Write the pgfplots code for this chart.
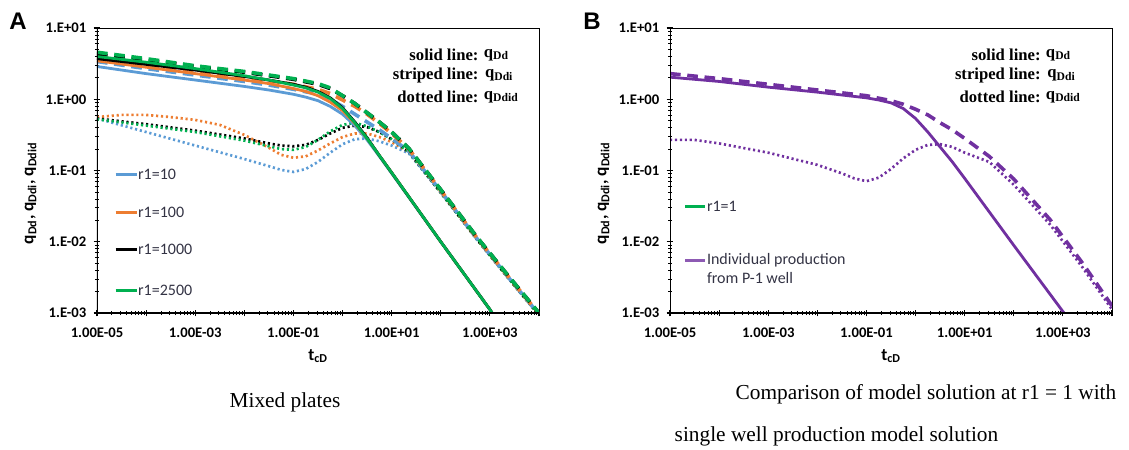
\documentclass[border=0pt]{standalone}
\usepackage{fontspec}
\setmainfont{Liberation Serif}
\newfontfamily\carlito{Carlito}
\newfontfamily\arialfont{Liberation Sans}
\usepackage{pgfplots}
\pgfplotsset{compat=1.18}

\definecolor{xblue}{HTML}{5B9BD5}
\definecolor{xorange}{HTML}{ED7D31}
\definecolor{xgreen}{HTML}{00B050}
\definecolor{xpurple}{HTML}{7030A0}
\definecolor{legtext}{HTML}{333344}

\newcommand\tickfont{\carlito\bfseries\fontsize{11}{12}\selectfont}
\newcommand\labfont{\carlito\bfseries\fontsize{13}{14}\selectfont}
\newcommand\legfont{\carlito\fontsize{12}{13}\selectfont}
\newcommand\notefont{\bfseries\fontsize{12.5}{13}\selectfont}
\newcommand\capfont{\fontsize{16}{18}\selectfont}

\tikzset{
  solidl/.style={line width=2.1pt},
  dashl/.style={line width=2.7pt, dash pattern=on 8pt off 5pt},
  dotl/.style={line width=2pt, dash pattern=on 1.6pt off 2.1pt},
}

\begin{document}
\begin{tikzpicture}[x=0.75pt,y=0.75pt]
\path[use as bounding box] (0,0) rectangle (1129,-450);

\node[font=\arialfont\bfseries\fontsize{18}{18}\selectfont] at (18,-21) {A};
\node[font=\arialfont\bfseries\fontsize{18}{18}\selectfont] at (592,-21) {B};

% ---------------- panel A ----------------
\begin{axis}[at={(72.75pt,-234.75pt)}, anchor=south west,
    xmode=log, ymode=log, scale only axis,
    width=331.5pt, height=213.75pt,
    xmin=1e-5, xmax=1e4, ymin=1e-3, ymax=10,
    xtick={1e-5,1e-4,1e-3,1e-2,1e-1,1,1e1,1e2,1e3,1e4},
    xticklabels={1.00E-05,,1.00E-03,,1.00E-01,,1.00E+01,,1.00E+03,},
    ytick={1e-3,1e-2,1e-1,1,10},
    yticklabels={1.E-03,1.E-02,1.E-01,1.E+00,1.E+01},
    minor xtick={2e-5,3e-5,4e-5,5e-5,6e-5,7e-5,8e-5,9e-5,
      2e-4,3e-4,4e-4,5e-4,6e-4,7e-4,8e-4,9e-4,
      2e-3,3e-3,4e-3,5e-3,6e-3,7e-3,8e-3,9e-3,
      2e-2,3e-2,4e-2,5e-2,6e-2,7e-2,8e-2,9e-2,
      0.2,0.3,0.4,0.5,0.6,0.7,0.8,0.9,
      2,3,4,5,6,7,8,9,
      20,30,40,50,60,70,80,90,
      200,300,400,500,600,700,800,900,
      2000,3000,4000,5000,6000,7000,8000,9000},
    minor ytick={2e-3,3e-3,4e-3,5e-3,6e-3,7e-3,8e-3,9e-3,
      2e-2,3e-2,4e-2,5e-2,6e-2,7e-2,8e-2,9e-2,
      0.2,0.3,0.4,0.5,0.6,0.7,0.8,0.9,
      2,3,4,5,6,7,8,9},
    tick pos=left, tick align=center,
    major tick length=5pt, minor tick length=3pt,
    major tick style={black, line width=0.8pt},
    minor tick style={black, line width=0.5pt},
    axis line style={line width=0.7pt},
    ticklabel style={font=\tickfont},
    xticklabel style={yshift=-5pt},
    yticklabel style={xshift=-2pt},
    xlabel={t\textsubscript{cD}},
    ylabel={q\textsubscript{Dd}, q\textsubscript{Ddi}, q\textsubscript{Ddid}},
    label style={font=\labfont},
    xlabel style={yshift=-2pt},
    ylabel style={at={(ticklabel cs:0.42)}}]
% dotted: q_Ddid
\addplot[dotl, xblue] coordinates {(1e-5,0.537)(1e-4,0.347)(1e-3,0.224)(0.01,0.145)(0.0316,0.115)(0.0562,0.102)(0.1,0.0955)(0.178,0.105)(0.316,0.132)(0.562,0.178)(1,0.234)(1.78,0.275)(3.16,0.282)(5.62,0.257)(10,0.224)(22.4,0.174)(100,0.049)(537,0.01096)(2512,0.00295)(10000,0.000933)};
\addplot[dotl, xorange] coordinates {(1e-5,0.562)(3.16e-5,0.603)(1e-4,0.603)(3.16e-4,0.562)(1e-3,0.513)(3.16e-3,0.437)(0.01,0.316)(0.0316,0.209)(0.0562,0.166)(0.1,0.151)(0.178,0.158)(0.316,0.191)(0.562,0.240)(1,0.295)(1.78,0.331)(3.16,0.331)(5.62,0.295)(10,0.251)(22.4,0.182)(100,0.049)(537,0.01096)(2512,0.00295)(10000,0.000933)};
\addplot[dotl, black] coordinates {(1e-5,0.537)(1e-4,0.447)(1e-3,0.363)(0.01,0.282)(0.0316,0.240)(0.0562,0.224)(0.1,0.219)(0.178,0.229)(0.316,0.269)(0.562,0.331)(1,0.398)(1.78,0.427)(3.16,0.407)(5.62,0.347)(10,0.275)(22.4,0.182)(100,0.049)(537,0.01096)(2512,0.00295)(10000,0.000933)};
\addplot[dotl, xgreen] coordinates {(1e-5,0.525)(1e-4,0.427)(1e-3,0.347)(0.01,0.263)(0.0316,0.219)(0.0562,0.200)(0.1,0.195)(0.178,0.214)(0.316,0.269)(0.562,0.355)(1,0.437)(1.78,0.468)(3.16,0.417)(5.62,0.347)(10,0.275)(22.4,0.182)(100,0.049)(537,0.01096)(2512,0.00295)(10000,0.000933)};
% dashed: q_Ddi
\addplot[dashl, xblue] coordinates {(1e-5,3.388)(1e-4,2.692)(1e-3,2.188)(0.01,1.778)(0.0316,1.585)(0.1,1.380)(0.316,1.175)(0.562,1.0)(1,0.794)(1.78,0.617)(3.16,0.479)(5.62,0.372)(10,0.282)(22.4,0.186)(100,0.0513)(537,0.01122)(2512,0.00302)(10000,0.000955)};
\addplot[dashl, xorange] coordinates {(1e-5,3.802)(1e-4,3.090)(1e-3,2.512)(0.01,2.042)(0.0316,1.820)(0.1,1.622)(0.316,1.380)(0.562,1.202)(1,0.977)(1.78,0.794)(3.16,0.617)(5.62,0.457)(10,0.331)(22.4,0.200)(100,0.0525)(537,0.01148)(2512,0.00309)(10000,0.000977)};
\addplot[dashl, black] coordinates {(1e-5,4.266)(1e-4,3.548)(1e-3,2.884)(0.01,2.399)(0.0316,2.138)(0.1,1.905)(0.316,1.622)(0.562,1.413)(1,1.122)(1.78,0.871)(3.16,0.646)(5.62,0.479)(10,0.347)(22.4,0.204)(100,0.0537)(537,0.01175)(2512,0.00316)(10000,0.001)};
\addplot[dashl, xgreen] coordinates {(1e-5,4.571)(1e-4,3.715)(1e-3,2.951)(0.01,2.455)(0.0316,2.188)(0.1,1.950)(0.316,1.660)(0.562,1.445)(1,1.122)(1.78,0.871)(3.16,0.646)(5.62,0.479)(10,0.347)(22.4,0.204)(100,0.0537)(537,0.01175)(2512,0.00316)(10000,0.001)};
% solid: q_Dd
\addplot[solidl, xblue] coordinates {(1e-5,2.884)(1e-4,2.291)(1e-3,1.862)(0.01,1.514)(0.0316,1.349)(0.1,1.175)(0.178,1.072)(0.316,0.955)(0.562,0.794)(1,0.617)(1.78,0.427)(3.16,0.269)(5.62,0.158)(10,0.0912)(100,0.01)(1000,0.00112)(1259,0.000871)};
\addplot[solidl, xorange] coordinates {(1e-5,3.467)(1e-4,2.818)(1e-3,2.291)(0.01,1.862)(0.0316,1.660)(0.1,1.413)(0.178,1.288)(0.316,1.122)(0.562,0.912)(1,0.692)(1.78,0.457)(3.16,0.282)(5.62,0.162)(10,0.0933)(100,0.01)(1000,0.00112)(1259,0.000871)};
\addplot[solidl, black] coordinates {(1e-5,3.715)(1e-4,3.090)(1e-3,2.570)(0.01,2.089)(0.0316,1.862)(0.1,1.622)(0.178,1.479)(0.316,1.288)(0.562,1.047)(1,0.759)(1.78,0.479)(3.16,0.288)(5.62,0.162)(10,0.0933)(100,0.01)(1000,0.00112)(1259,0.000871)};
\addplot[solidl, xgreen] coordinates {(1e-5,3.981)(1e-4,3.311)(1e-3,2.692)(0.01,2.138)(0.0316,1.862)(0.1,1.585)(0.178,1.445)(0.316,1.259)(0.562,1.023)(1,0.741)(1.78,0.468)(3.16,0.282)(5.62,0.162)(10,0.0933)(100,0.01)(1000,0.00112)(1259,0.000871)};
% legend
\draw[xblue, line width=2pt] (axis cs:2.4e-5,0.087) -- (axis cs:6.6e-5,0.087);
\node[anchor=west, inner sep=0pt, font=\legfont, text=legtext] at (axis cs:6.8e-5,0.087) {r1=10};
\draw[xorange, line width=2pt] (axis cs:2.4e-5,0.0257) -- (axis cs:6.6e-5,0.0257);
\node[anchor=west, inner sep=0pt, font=\legfont, text=legtext] at (axis cs:6.8e-5,0.0257) {r1=100};
\draw[black, line width=2pt] (axis cs:2.4e-5,0.00776) -- (axis cs:6.6e-5,0.00776);
\node[anchor=west, inner sep=0pt, font=\legfont, text=legtext] at (axis cs:6.8e-5,0.00776) {r1=1000};
\draw[xgreen, line width=2pt] (axis cs:2.4e-5,0.00209) -- (axis cs:6.6e-5,0.00209);
\node[anchor=west, inner sep=0pt, font=\legfont, text=legtext] at (axis cs:6.8e-5,0.00209) {r1=2500};
% notes
\node[anchor=east, inner sep=1pt, font=\notefont] at (axis cs:631,4.17) {solid line:};
\node[anchor=west, inner sep=1pt, font=\notefont] at (axis cs:700,4.17) {q\textsubscript{Dd}};
\node[anchor=east, inner sep=1pt, font=\notefont] at (axis cs:631,2.14) {striped line:};
\node[anchor=west, inner sep=1pt, font=\notefont] at (axis cs:740,2.14) {q\textsubscript{Ddi}};
\node[anchor=east, inner sep=1pt, font=\notefont] at (axis cs:631,1.07) {dotted line:};
\node[anchor=west, inner sep=1pt, font=\notefont] at (axis cs:700,1.07) {q\textsubscript{Ddid}};
\draw[line width=1.4pt] (rel axis cs:0,1) -- (rel axis cs:0,0) -- (rel axis cs:1,0);
\end{axis}

% ---------------- panel B ----------------
\begin{axis}[at={(502.5pt,-234.75pt)}, anchor=south west,
    xmode=log, ymode=log, scale only axis,
    width=331.5pt, height=213.75pt,
    xmin=1e-5, xmax=1e4, ymin=1e-3, ymax=10,
    xtick={1e-5,1e-4,1e-3,1e-2,1e-1,1,1e1,1e2,1e3,1e4},
    xticklabels={1.00E-05,,1.00E-03,,1.00E-01,,1.00E+01,,1.00E+03,},
    ytick={1e-3,1e-2,1e-1,1,10},
    yticklabels={1.E-03,1.E-02,1.E-01,1.E+00,1.E+01},
    minor xtick={2e-5,3e-5,4e-5,5e-5,6e-5,7e-5,8e-5,9e-5,
      2e-4,3e-4,4e-4,5e-4,6e-4,7e-4,8e-4,9e-4,
      2e-3,3e-3,4e-3,5e-3,6e-3,7e-3,8e-3,9e-3,
      2e-2,3e-2,4e-2,5e-2,6e-2,7e-2,8e-2,9e-2,
      0.2,0.3,0.4,0.5,0.6,0.7,0.8,0.9,
      2,3,4,5,6,7,8,9,
      20,30,40,50,60,70,80,90,
      200,300,400,500,600,700,800,900,
      2000,3000,4000,5000,6000,7000,8000,9000},
    minor ytick={2e-3,3e-3,4e-3,5e-3,6e-3,7e-3,8e-3,9e-3,
      2e-2,3e-2,4e-2,5e-2,6e-2,7e-2,8e-2,9e-2,
      0.2,0.3,0.4,0.5,0.6,0.7,0.8,0.9,
      2,3,4,5,6,7,8,9},
    tick pos=left, tick align=center,
    major tick length=5pt, minor tick length=3pt,
    major tick style={black, line width=0.8pt},
    minor tick style={black, line width=0.5pt},
    axis line style={line width=0.7pt},
    ticklabel style={font=\tickfont},
    xticklabel style={yshift=-5pt},
    yticklabel style={xshift=-2pt},
    xlabel={t\textsubscript{cD}},
    ylabel={q\textsubscript{Dd}, q\textsubscript{Ddi}, q\textsubscript{Ddid}},
    label style={font=\labfont},
    xlabel style={yshift=-2pt},
    ylabel style={at={(ticklabel cs:0.42)}}]
\addplot[dotl, xpurple] coordinates {(1e-5,0.269)(3.16e-5,0.269)(1e-4,0.240)(1e-3,0.178)(0.01,0.120)(0.0316,0.0912)(0.0562,0.0776)(0.1,0.0708)(0.178,0.0794)(0.316,0.105)(0.562,0.148)(1,0.195)(1.78,0.229)(3.16,0.234)(5.62,0.214)(10,0.178)(31.6,0.132)(100,0.0631)(550,0.0174)(2512,0.00437)(10000,0.00112)};
\addplot[dashl, xpurple] coordinates {(1e-5,2.291)(1e-4,1.950)(1e-3,1.622)(0.01,1.349)(0.0316,1.230)(0.1,1.122)(0.316,0.955)(0.562,0.851)(1,0.724)(1.78,0.603)(3.16,0.468)(5.62,0.372)(10,0.282)(31.6,0.158)(100,0.0759)(550,0.0204)(2512,0.00501)(10000,0.00126)};
\addplot[solidl, xpurple] coordinates {(1e-5,2.042)(1e-4,1.778)(1e-3,1.479)(0.01,1.259)(0.0316,1.148)(0.1,1.047)(0.178,0.977)(0.316,0.891)(0.562,0.741)(1,0.537)(1.78,0.347)(3.16,0.214)(5.62,0.132)(10,0.0776)(100,0.00891)(1000,0.00105)(1259,0.000871)};
% legend
\draw[xgreen, line width=2pt] (axis cs:2.04e-5,0.031) -- (axis cs:5.2e-5,0.031);
\node[anchor=west, inner sep=0pt, font=\legfont, text=legtext] at (axis cs:5.6e-5,0.031) {r1=1};
\draw[xpurple!80, line width=2pt] (axis cs:2.04e-5,0.0055) -- (axis cs:5.2e-5,0.0055);
\node[anchor=west, inner sep=0pt, font=\legfont, text=legtext] at (axis cs:5.6e-5,0.0055) {Individual production};
\node[anchor=west, inner sep=0pt, font=\legfont, text=legtext] at (axis cs:5.6e-5,0.0031) {from P-1 well};
% notes
\node[anchor=east, inner sep=1pt, font=\notefont] at (axis cs:380,4.17) {solid line:};
\node[anchor=west, inner sep=1pt, font=\notefont] at (axis cs:420,4.17) {q\textsubscript{Dd}};
\node[anchor=east, inner sep=1pt, font=\notefont] at (axis cs:380,2.14) {striped line:};
\node[anchor=west, inner sep=1pt, font=\notefont] at (axis cs:450,2.14) {q\textsubscript{Ddi}};
\node[anchor=east, inner sep=1pt, font=\notefont] at (axis cs:380,1.07) {dotted line:};
\node[anchor=west, inner sep=1pt, font=\notefont] at (axis cs:420,1.07) {q\textsubscript{Ddid}};
\draw[line width=1.4pt] (rel axis cs:0,1) -- (rel axis cs:0,0) -- (rel axis cs:1,0);
\end{axis}

% captions
\node[font=\capfont] at (285,-402) {Mixed plates};
\node[font=\capfont, anchor=east] at (1121,-394) {Comparison of model solution at r1 = 1 with};
\node[font=\capfont, anchor=west] at (670,-436) {single well production model solution};
\end{tikzpicture}
\end{document}
